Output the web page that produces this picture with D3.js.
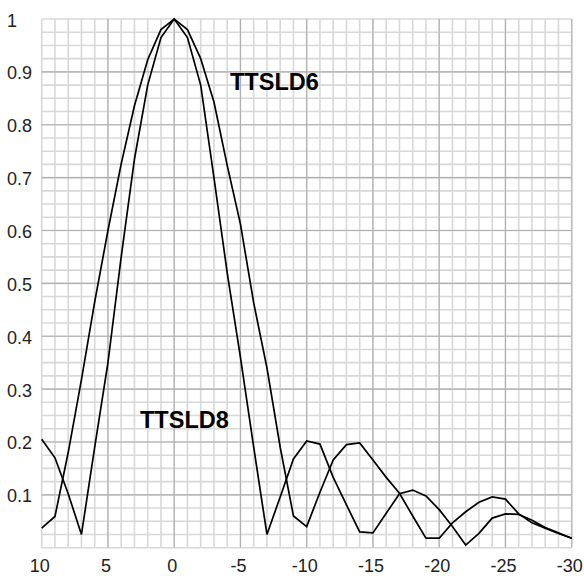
<!DOCTYPE html>
<html>
<head>
<meta charset="utf-8">
<script src="https://cdnjs.cloudflare.com/ajax/libs/d3/7.8.5/d3.min.js"></script>
<style>
    body { margin: 0; background: #fff; }
    text { font-family: "Liberation Sans", Arial, sans-serif; }
</style>
</head>
<body>
<div id="placeholder"></div>
<script>
"use strict";

//angle samples along the x axis
var angles = [10, 9, 8, 7, 6, 5, 4, 3, 2, 1, 0, -1, -2, -3, -4, -5, -6, -7, -8, -9, -10,
    -11, -12, -13, -14, -15, -16, -17, -18, -19, -20, -21, -22, -23, -24, -25, -26, -27, -28, -29, -30];

//narrow beam
var ttsld8 = [0.205, 0.17, 0.102, 0.025, 0.19, 0.35, 0.55, 0.735, 0.875, 0.965, 1.0,
    0.965, 0.875, 0.70, 0.52, 0.36, 0.19, 0.025, 0.096, 0.168, 0.202,
    0.196, 0.133, 0.081, 0.03, 0.028, 0.065, 0.102, 0.109, 0.098, 0.072,
    0.04, 0.005, 0.027, 0.056, 0.064, 0.063, 0.052, 0.038, 0.028, 0.018];

//wide beam
var ttsld6 = [0.037, 0.059, 0.18, 0.318, 0.465, 0.60, 0.726, 0.836, 0.923, 0.98, 1.0,
    0.98, 0.925, 0.843, 0.723, 0.612, 0.463, 0.34, 0.19, 0.06, 0.04,
    0.105, 0.166, 0.195, 0.198, 0.166, 0.133, 0.103, 0.06, 0.018, 0.018,
    0.047, 0.068, 0.086, 0.096, 0.092, 0.064, 0.047, 0.037, 0.027, 0.018];

var xTicks = [10, 5, 0, -5, -10, -15, -20, -25, -30];
var yTicks = [0.1, 0.2, 0.3, 0.4, 0.5, 0.6, 0.7, 0.8, 0.9, 1];

var width = 584, height = 576;
var plotLeft = 41.7, plotRight = 571.7, plotTop = 19, plotBottom = 547.7;

var svg = d3.select("#placeholder")
        .append("svg")
        .attr("width", width)
        .attr("height", height);

var x = d3.scaleLinear().domain([10, -30]).range([plotLeft, plotRight]);
var y = d3.scaleLinear().domain([0, 1]).range([plotBottom, plotTop]);

//minor grid: every degree and every 0.025
var minorX = d3.range(10, -31, -1);
var minorY = d3.range(0, 41).map(function (i) { return i * 0.025; });

svg.append("g").selectAll("line")
        .data(minorX)
        .enter().append("line")
        .attr("x1", function (d) { return x(d); })
        .attr("x2", function (d) { return x(d); })
        .attr("y1", plotTop)
        .attr("y2", plotBottom)
        .style("stroke", "#d8d8d8")
        .style("stroke-width", 1.6);

svg.append("g").selectAll("line")
        .data(minorY)
        .enter().append("line")
        .attr("x1", plotLeft)
        .attr("x2", plotRight)
        .attr("y1", function (d) { return y(d); })
        .attr("y2", function (d) { return y(d); })
        .style("stroke", "#d8d8d8")
        .style("stroke-width", 1.6);

//major grid
svg.append("g").selectAll("line")
        .data(xTicks.slice(1, -1))
        .enter().append("line")
        .attr("x1", function (d) { return x(d); })
        .attr("x2", function (d) { return x(d); })
        .attr("y1", plotTop)
        .attr("y2", plotBottom)
        .style("stroke", "#b0b0b0")
        .style("stroke-width", 1.1);

svg.append("g").selectAll("line")
        .data(yTicks.slice(0, -1))
        .enter().append("line")
        .attr("x1", plotLeft)
        .attr("x2", plotRight)
        .attr("y1", function (d) { return y(d); })
        .attr("y2", function (d) { return y(d); })
        .style("stroke", "#b0b0b0")
        .style("stroke-width", 1.1);

//right edge of the frame
svg.append("line")
        .attr("x1", plotRight).attr("x2", plotRight)
        .attr("y1", plotTop).attr("y2", plotBottom)
        .style("stroke", "#bcbcbc")
        .style("stroke-width", 1.4);

//tick labels
svg.append("g").selectAll("text")
        .data(yTicks)
        .enter().append("text")
        .attr("x", 7)
        .attr("y", function (d) { return y(d) + 7.5; })
        .style("font-size", "18px")
        .style("fill", "#222")
        .text(function (d) { return d === 1 ? "1" : d3.format(".1f")(d); });

svg.append("g").selectAll("text")
        .data(xTicks)
        .enter().append("text")
        .attr("x", function (d) { return x(d) - 2; })
        .attr("y", plotBottom + 24)
        .attr("text-anchor", "middle")
        .style("font-size", "18px")
        .style("fill", "#222")
        .text(function (d) { return String(d); });

//the two patterns
var line = d3.line()
        .x(function (d) { return x(d[0]); })
        .y(function (d) { return y(d[1]); });

[ttsld6, ttsld8].forEach(function (vals) {
    svg.append("path")
            .datum(d3.zip(angles, vals))
            .attr("d", line)
            .style("fill", "none")
            .style("stroke", "#000")
            .style("stroke-width", 1.7);
});

//series names
svg.append("text")
        .attr("x", 230).attr("y", 90)
        .style("font-size", "23.5px")
        .style("font-weight", "bold")
        .text("TTSLD6");

svg.append("text")
        .attr("x", 140).attr("y", 428.3)
        .style("font-size", "23.5px")
        .style("font-weight", "bold")
        .text("TTSLD8");
</script>
</body>
</html>
